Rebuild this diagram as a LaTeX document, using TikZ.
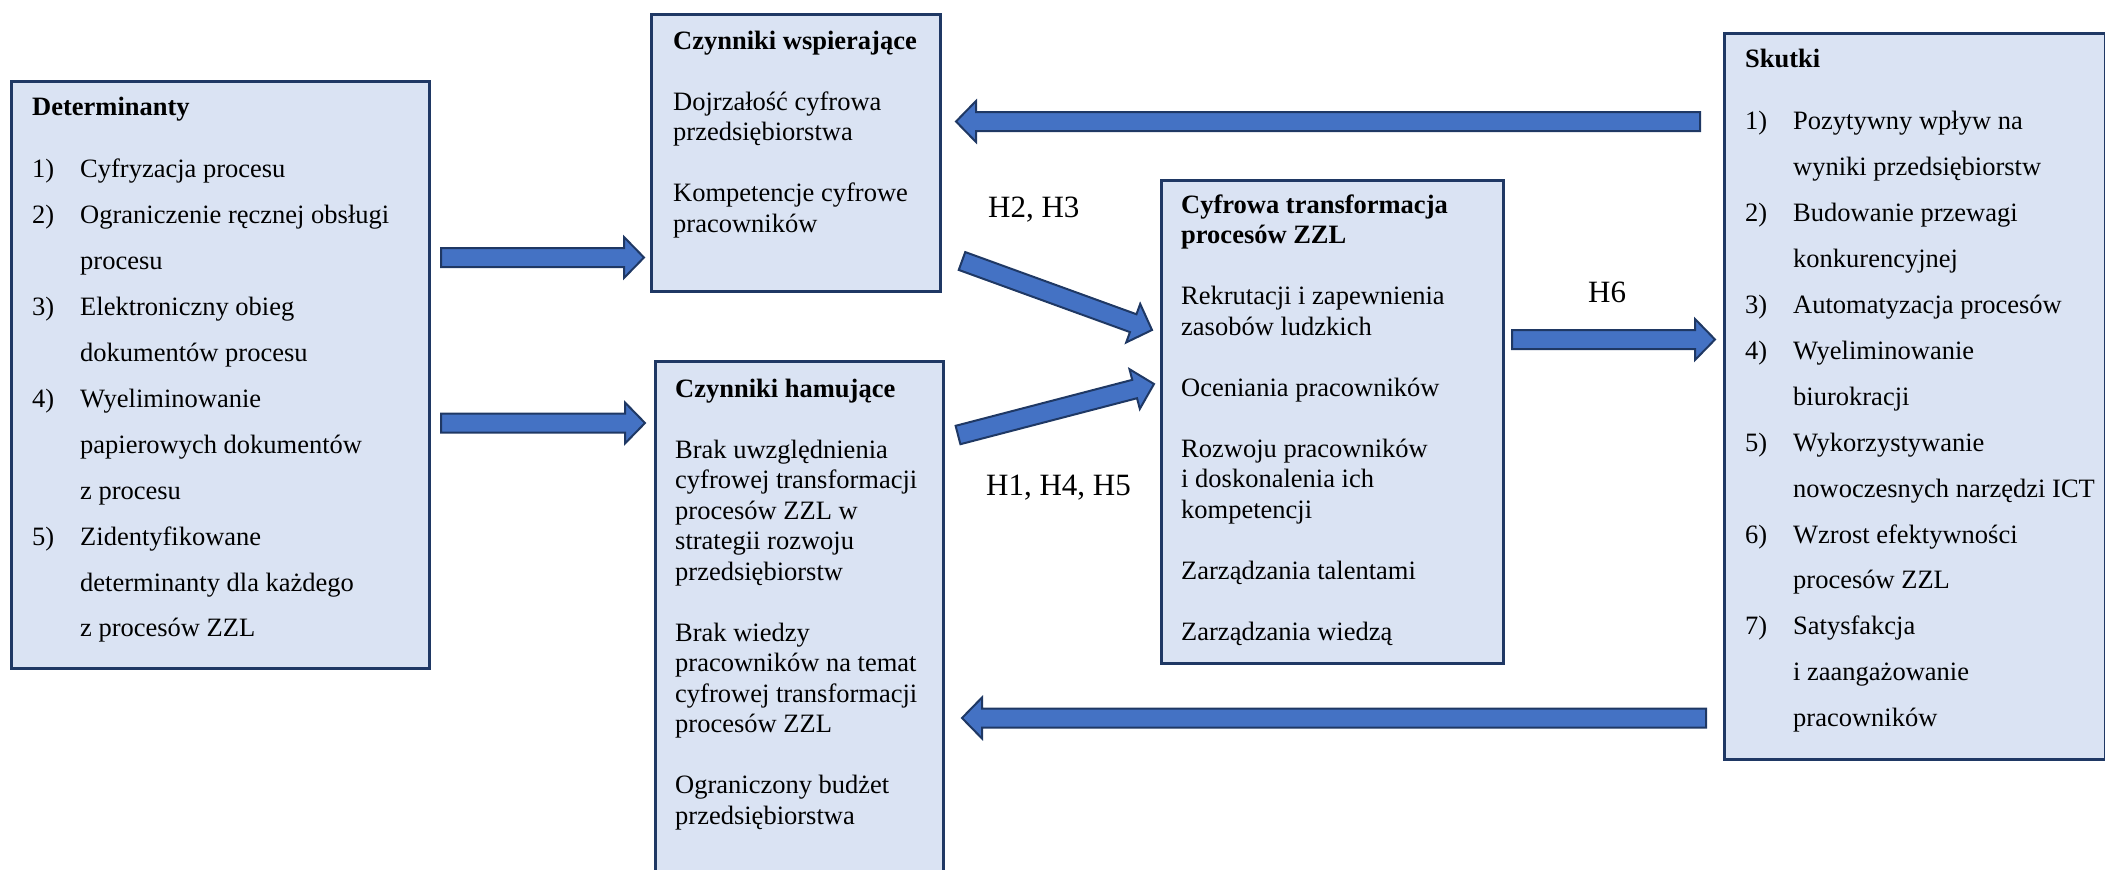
\documentclass[tikz,border=0pt]{standalone}
\usepackage{fontspec}
\setmainfont{Liberation Serif}
\usetikzlibrary{calc}

\definecolor{boxfill}{HTML}{DAE3F3}
\definecolor{boxline}{HTML}{1F3864}
\definecolor{arrowfill}{HTML}{4472C4}
\definecolor{arrowline}{HTML}{1F3864}

\tikzset{
  panel/.style={draw=boxline, fill=boxfill, line width=2.5pt, anchor=north west, inner sep=0pt},
  bodytext/.style={anchor=base west, inner sep=0pt, font=\fontsize{26.5pt}{30.5pt}\selectfont},
  listtext/.style={anchor=base west, inner sep=0pt, font=\fontsize{26.5pt}{45.9pt}\selectfont},
  hlabel/.style={anchor=base west, inner sep=0pt, font=\fontsize{31pt}{36pt}\selectfont},
  barrow/.style={draw=arrowline, fill=arrowfill, line width=2pt, line join=miter},
}

% numbered list helpers: fixed-width label column and continuation indent
\newcommand\lstno[1]{\makebox[48pt][l]{#1}}
\newcommand\lstgap{\hspace*{48pt}}

% thick block arrow from tail (#1) to tip (#2)
\newcommand\blockarrow[2]{%
  \coordinate (ba-base) at ($(#2)!20pt!(#1)$);
  \draw[barrow] ($(#1)!9.5pt!90:(#2)$) -- ($(ba-base)!9.5pt!90:(#2)$)
    -- ($(ba-base)!20.5pt!90:(#2)$) -- (#2) -- ($(ba-base)!20.5pt!-90:(#2)$)
    -- ($(ba-base)!9.5pt!-90:(#2)$) -- ($(#1)!9.5pt!-90:(#2)$) -- cycle;}

\begin{document}
\begin{tikzpicture}[x=1pt, y=-1pt]
\useasboundingbox (0,0) rectangle (2105,870);

% panels
\node[panel, minimum width=418pt, minimum height=587pt] (det) at (10,80) {};
\node[panel, minimum width=289pt, minimum height=277pt] (wsp) at (650,13) {};
\node[panel, minimum width=288pt, minimum height=540pt] (ham) at (654,360) {};
\node[panel, minimum width=342pt, minimum height=483pt] (cyf) at (1160,179) {};
\node[panel, minimum width=381pt, minimum height=726pt] (sku) at (1723,32) {};

% panel texts
\node[listtext] (dettxt) at (32,115) {\parbox[t]{400pt}{%
  \textbf{Determinanty}\\[17pt]
  \lstno{1)}Cyfryzacja procesu\\
  \lstno{2)}Ograniczenie ręcznej obsługi\\
  \lstgap procesu\\
  \lstno{3)}Elektroniczny obieg\\
  \lstgap dokumentów procesu\\
  \lstno{4)}Wyeliminowanie\\
  \lstgap papierowych dokumentów\\
  \lstgap z procesu\\
  \lstno{5)}Zidentyfikowane\\
  \lstgap determinanty dla każdego\\
  \lstgap z procesów ZZL}};

\node[bodytext] (wsptxt) at (673,49) {\parbox[t]{260pt}{%
  \textbf{Czynniki wspierające}\\[30.5pt]
  Dojrzałość cyfrowa\\
  przedsiębiorstwa\\[30.5pt]
  Kompetencje cyfrowe\\
  pracowników}};

\node[bodytext] (hamtxt) at (675,397) {\parbox[t]{260pt}{%
  \textbf{Czynniki hamujące}\\[30.5pt]
  Brak uwzględnienia\\
  cyfrowej transformacji\\
  procesów ZZL w\\
  strategii rozwoju\\
  przedsiębiorstw\\[30.5pt]
  Brak wiedzy\\
  pracowników na temat\\
  cyfrowej transformacji\\
  procesów ZZL\\[30.5pt]
  Ograniczony budżet\\
  przedsiębiorstwa}};

\node[bodytext] (cyftxt) at (1181,213) {\parbox[t]{310pt}{%
  \textbf{Cyfrowa transformacja}\\
  \textbf{procesów ZZL}\\[30.5pt]
  Rekrutacji i zapewnienia\\
  zasobów ludzkich\\[30.5pt]
  Oceniania pracowników\\[30.5pt]
  Rozwoju pracowników\\
  i doskonalenia ich\\
  kompetencji\\[30.5pt]
  Zarządzania talentami\\[30.5pt]
  Zarządzania wiedzą}};

\node[listtext] (skutxt) at (1745,67) {\parbox[t]{360pt}{%
  \textbf{Skutki}\\[17pt]
  \lstno{1)}Pozytywny wpływ na\\
  \lstgap wyniki przedsiębiorstw\\
  \lstno{2)}Budowanie przewagi\\
  \lstgap konkurencyjnej\\
  \lstno{3)}Automatyzacja procesów\\
  \lstno{4)}Wyeliminowanie\\
  \lstgap biurokracji\\
  \lstno{5)}Wykorzystywanie\\
  \lstgap nowoczesnych narzędzi ICT\\
  \lstno{6)}Wzrost efektywności\\
  \lstgap procesów ZZL\\
  \lstno{7)}Satysfakcja\\
  \lstgap i zaangażowanie\\
  \lstgap pracowników}};

% hypothesis labels
\node[hlabel] (h23) at (988,217) {H2, H3};
\node[hlabel] (h145) at (986,495) {H1, H4, H5};
\node[hlabel] (h6) at (1588,302) {H6};

% arrow end points
\coordinate (a1s) at (441,257.5);  \coordinate (a1e) at (644,257.5);
\coordinate (a2s) at (441,423);    \coordinate (a2e) at (645,423);
\coordinate (a3s) at (962,261);    \coordinate (a3e) at (1152,330);
\coordinate (a4s) at (958,435);    \coordinate (a4e) at (1154,384);
\coordinate (a5s) at (1512,339.5); \coordinate (a5e) at (1715,339.5);
\coordinate (a6s) at (1700,121.5); \coordinate (a6e) at (956,121.5);
\coordinate (a7s) at (1706,718);   \coordinate (a7e) at (962,718);

% arrows
\blockarrow{a1s}{a1e}
\blockarrow{a2s}{a2e}
\blockarrow{a3s}{a3e}
\blockarrow{a4s}{a4e}
\blockarrow{a5s}{a5e}
\blockarrow{a6s}{a6e}
\blockarrow{a7s}{a7e}
\end{tikzpicture}
\end{document}
